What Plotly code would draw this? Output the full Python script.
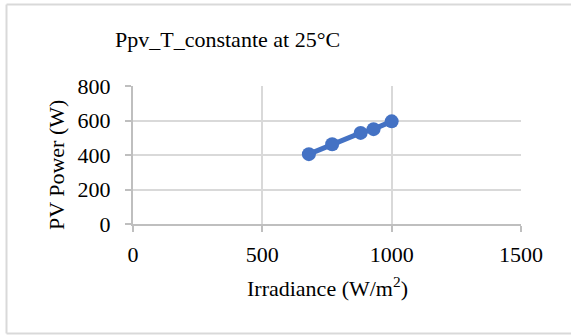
import plotly.graph_objects as go

# Irradiance sweep at constant cell temperature (25 °C)
irradiance = [680, 770, 880, 930, 1000]
pv_power = [405, 462, 528, 550, 595]

x_ticks = [0, 500, 1000, 1500]
y_ticks = [0, 200, 400, 600, 800]

W, H = 571, 335
L, R, T, B = 133, 50, 86, 111
pw, ph = W - L - R, H - T - B


def px(x):
    return (x - L) / pw


def py(y):
    return (H - B - y) / ph


font = "Liberation Serif, Times New Roman, serif"
grid = "#d9d9d9"
axis_col = "#bfbfbf"
fs = 22

fig = go.Figure()
fig.add_trace(go.Scatter(
    x=irradiance, y=pv_power, mode="lines+markers",
    line=dict(color="#4472C4", width=5),
    marker=dict(color="#4472C4", size=14),
    showlegend=False,
))

# chart-area frame (open on the right edge)
frame = dict(type="line", xref="paper", yref="paper",
             line=dict(color=grid, width=2), layer="below")

fig.update_layout(
    width=W, height=H,
    margin=dict(l=L, r=R, t=T, b=B),
    paper_bgcolor="white", plot_bgcolor="white",
    font=dict(family=font, size=fs, color="black"),
    xaxis=dict(
        range=[0, 1500], tickvals=x_ticks, ticktext=[str(v) for v in x_ticks],
        showgrid=True, gridcolor=grid, gridwidth=2,
        showline=True, linecolor=axis_col, linewidth=2,
        ticks="outside", ticklen=6, tickcolor=axis_col, tickwidth=2,
        ticklabelstandoff=4,
        zeroline=False, fixedrange=True,
    ),
    yaxis=dict(
        range=[0, 800], tickvals=y_ticks, ticktext=[str(v) for v in y_ticks],
        showgrid=True, gridcolor=grid, gridwidth=2,
        showline=True, linecolor=axis_col, linewidth=2,
        ticks="outside", ticklen=6, tickcolor=axis_col, tickwidth=2,
        ticklabelstandoff=10,
        zeroline=False, fixedrange=True,
    ),
    annotations=[
        dict(text="Ppv_T_constante at 25°C", xref="paper", yref="paper",
             x=px(113), y=py(39), xanchor="left", yanchor="middle",
             showarrow=False, font=dict(size=fs)),
        dict(text="PV Power (W)", xref="paper", yref="paper",
             x=px(56), y=py(165), xanchor="center", yanchor="middle",
             textangle=-90, showarrow=False, font=dict(size=fs)),
        dict(text="Irradiance (W/m<sup>2</sup>)", xref="paper", yref="paper",
             x=px(327), y=py(287), xanchor="center", yanchor="middle",
             showarrow=False, font=dict(size=fs)),
    ],
    shapes=[
        dict(frame, x0=px(6.5), x1=px(571), y0=py(4.5), y1=py(4.5)),
        dict(frame, x0=px(6.5), x1=px(571), y0=py(333.5), y1=py(333.5)),
        dict(frame, x0=px(6.5), x1=px(6.5), y0=py(4.5), y1=py(333.5)),
    ],
)

fig.write_html("out.html")
